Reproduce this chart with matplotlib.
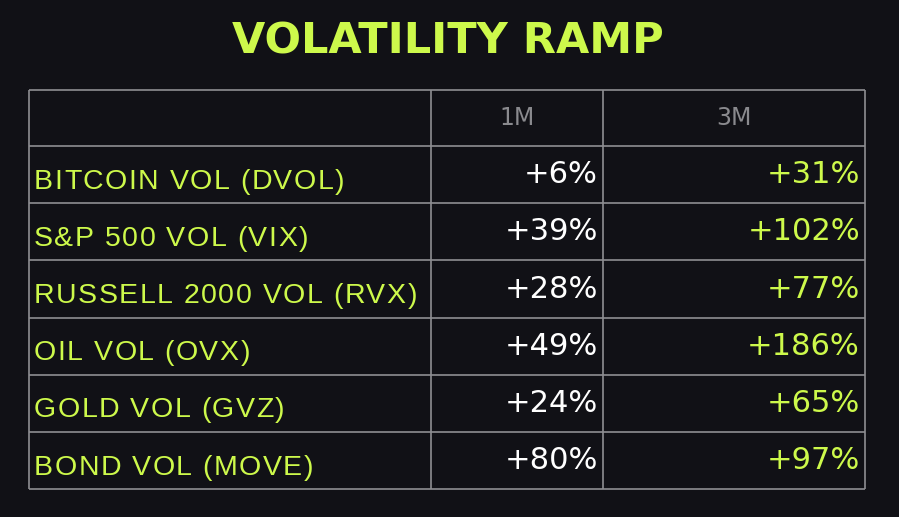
import matplotlib.pyplot as plt
from matplotlib.font_manager import FontProperties, findfont
from matplotlib.ft2font import FT2Font

# table data
title = "VOLATILITY RAMP"
columns = ["1M", "3M"]
labels = [
    "BITCOIN VOL (DVOL)",
    "S&P 500 VOL (VIX)",
    "RUSSELL 2000 VOL (RVX)",
    "OIL VOL (OVX)",
    "GOLD VOL (GVZ)",
    "BOND VOL (MOVE)",
]
change_1m = [6, 39, 28, 49, 24, 80]
change_3m = [31, 102, 77, 186, 65, 97]

BG = "#111116"
GREEN = "#cdf94b"
GRID = "#8e8e92"
HEAD = "#8a8a8e"
DPI = 100


def spaced_text(ax, x, y, s, size, family, tracking, **kw):
    # draw text char by char so the letters get some extra spacing
    prop = FontProperties(family=family, size=size)
    font = FT2Font(findfont(prop))
    font.set_size(size, 72)
    for ch in s:
        ax.text(x, y, ch, fontproperties=prop, ha="left", **kw)
        adv = font.load_char(ord(ch)).linearHoriAdvance / 65536.0
        x += adv * DPI / 72.0 + tracking


def main():
    fig = plt.figure(figsize=(8.99, 5.17), dpi=DPI, facecolor=BG)
    ax = fig.add_axes([0, 0, 1, 1])
    ax.set_facecolor(BG)
    ax.set_xlim(0, 899)
    ax.set_ylim(517, 0)
    ax.axis("off")

    # layout in pixels
    col_x = [29, 431, 603, 865]
    top = 90
    head_h = 56
    row_h = 57.2
    row_y = [top, top + head_h] + [top + head_h + row_h * (i + 1) for i in range(len(labels))]
    bottom = row_y[-1]

    for y in row_y:
        ax.plot([col_x[0], col_x[-1]], [y, y], color=GRID, lw=1.2, solid_capstyle="butt")
    for x in col_x:
        ax.plot([x, x], [top, bottom], color=GRID, lw=1.2, solid_capstyle="butt")

    ax.text(448, 41, title, color=GREEN, fontsize=31, fontweight="bold",
            family="DejaVu Sans", ha="center", va="center")

    for j, c in enumerate(columns):
        cx = (col_x[j + 1] + col_x[j + 2]) / 2
        ax.text(cx, top + head_h / 2, c, color=HEAD, fontsize=17,
                family="DejaVu Sans", ha="center", va="center")

    for i, lab in enumerate(labels):
        cy = row_y[i + 1] + row_h / 2
        spaced_text(ax, col_x[0] + 5, cy + 14, lab, 20.5, "Liberation Sans", 1.5,
                    color=GREEN, va="baseline")
        ax.text(col_x[2] - 5, cy, "+%d%%" % change_1m[i], color="white",
                fontsize=22, family="DejaVu Sans", ha="right", va="center")
        ax.text(col_x[3] - 5, cy, "+%d%%" % change_3m[i], color=GREEN,
                fontsize=22, family="DejaVu Sans", ha="right", va="center")

    fig.savefig("out.png", dpi=DPI, facecolor=BG)


if __name__ == '__main__':
    main()
